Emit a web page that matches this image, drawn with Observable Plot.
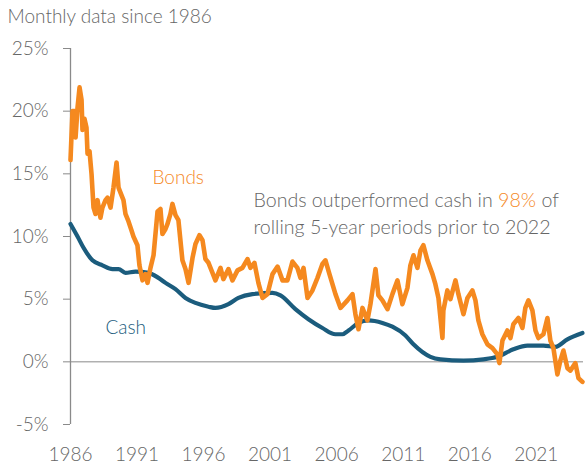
<!DOCTYPE html>
<html>
<head>
<meta charset="utf-8">
<script src="https://cdn.jsdelivr.net/npm/d3@7"></script>
<script src="https://cdn.jsdelivr.net/npm/@observablehq/plot@0.6"></script>
<style>
  html, body { margin: 0; padding: 0; background: #fff; }
  #chart svg { display: block; }
</style>
</head>
<body>
<div id="chart"></div>
<script>
const title = "Monthly data since 1986";
const noteLine1 = "Bonds outperformed cash in 98% of";
const noteLine2 = "rolling 5-year periods prior to 2022";
const noteHighlight = "98%";

const yTicks = [-5, 0, 5, 10, 15, 20, 25];
const xTicks = [1986, 1991, 1996, 2001, 2006, 2011, 2016, 2021];

const bondYears = [
  1986.00, 1986.15, 1986.30, 1986.38, 1986.53, 1986.68, 1986.83, 1986.90, 1987.05, 1987.20,
  1987.28, 1987.43, 1987.58, 1987.73, 1987.88, 1988.03, 1988.25, 1988.40, 1988.63, 1988.78,
  1989.01, 1989.23, 1989.46, 1989.61, 1989.83, 1989.98, 1990.13, 1990.36, 1990.58, 1990.73,
  1991.03, 1991.18, 1991.41, 1991.63, 1991.79, 1992.01, 1992.24, 1992.54, 1992.76, 1992.91,
  1993.14, 1993.29, 1993.51, 1993.66, 1993.89, 1994.11, 1994.41, 1994.64, 1994.87, 1995.17,
  1995.39, 1995.69, 1995.92, 1996.14, 1996.37, 1996.67, 1996.89, 1997.27, 1997.49, 1997.87,
  1998.17, 1998.55, 1998.92, 1999.30, 1999.52, 1999.82, 2000.12, 2000.43, 2000.80, 2001.18,
  2001.56, 2001.93, 2002.30, 2002.68, 2003.05, 2003.28, 2003.51, 2003.81, 2004.18, 2004.56,
  2004.93, 2005.16, 2005.46, 2005.91, 2006.29, 2006.81, 2007.19, 2007.41, 2007.64, 2007.94,
  2008.31, 2008.54, 2008.92, 2009.14, 2009.44, 2009.82, 2010.19, 2010.57, 2010.94, 2011.32,
  2011.54, 2011.77, 2012.07, 2012.30, 2012.52, 2012.82, 2013.20, 2013.42, 2013.65, 2013.95,
  2014.02, 2014.32, 2014.55, 2014.93, 2015.15, 2015.53, 2015.83, 2016.20, 2016.43, 2016.65,
  2016.95, 2017.33, 2017.71, 2018.08, 2018.23, 2018.46, 2018.83, 2019.06, 2019.28, 2019.66,
  2019.96, 2020.18, 2020.41, 2020.71, 2020.94, 2021.16, 2021.54, 2021.84, 2022.06, 2022.29,
  2022.59, 2022.81, 2023.04, 2023.34, 2023.57, 2023.94, 2024.17, 2024.47
];
const bondValues = [
  16.1, 20.0, 20.0, 17.9, 20.3, 21.9, 20.9, 18.5, 19.4, 18.7,
  16.6, 16.8, 15.0, 12.3, 11.8, 12.9, 11.5, 12.3, 12.9, 13.1,
  12.3, 13.9, 15.9, 13.9, 13.3, 12.9, 11.8, 11.2, 10.5, 10.0,
  9.3, 7.7, 6.5, 7.0, 6.3, 7.5, 8.5, 12.0, 12.2, 10.2,
  10.6, 11.0, 11.8, 12.6, 11.7, 11.3, 8.1, 7.4, 6.3, 8.3,
  9.4, 10.1, 9.7, 8.2, 7.9, 7.1, 6.5, 7.5, 6.6, 7.4,
  6.5, 7.3, 7.5, 8.2, 7.5, 7.9, 6.3, 5.1, 5.4, 7.0,
  7.6, 6.5, 6.5, 8.0, 7.5, 6.7, 7.5, 5.1, 5.7, 6.7,
  7.8, 8.1, 7.0, 5.4, 4.3, 4.9, 5.4, 3.8, 2.6, 4.3,
  3.3, 4.6, 7.4, 5.3, 4.9, 4.2, 5.4, 6.5, 4.6, 5.9,
  7.7, 8.5, 7.5, 8.9, 9.3, 8.1, 7.0, 6.2, 5.1, 1.9,
  4.1, 5.7, 5.0, 6.5, 5.4, 3.8, 5.1, 5.7, 4.9, 3.3,
  2.2, 1.4, 1.1, 0.6, -0.1, 1.7, 2.5, 1.9, 3.0, 3.5,
  2.7, 4.3, 4.9, 4.1, 2.5, 1.9, 2.2, 3.5, 1.7, 1.1,
  -1.0, 0.1, 0.9, -0.5, -0.7, -0.1, -1.3, -1.6
];

const cashYears = [
  1986.00, 1986.53, 1986.98, 1987.65, 1988.40, 1989.16, 1989.61, 1990.13, 1990.88, 1991.86,
  1992.61, 1993.14, 1993.89, 1994.64, 1995.39, 1996.37, 1996.89, 1997.87, 1998.62, 1999.67,
  2001.18, 2001.78, 2002.90, 2003.88, 2004.93, 2005.91, 2006.44, 2006.89, 2007.64, 2008.39,
  2009.44, 2010.19, 2011.17, 2011.77, 2013.05, 2013.80, 2015.53, 2017.03, 2018.08, 2019.28,
  2020.33, 2021.54, 2022.44, 2023.34, 2024.47
];
const cashValues = [
  11.0, 10.0, 9.1, 8.1, 7.7, 7.4, 7.4, 7.1, 7.2, 7.1,
  6.7, 6.3, 5.8, 5.1, 4.7, 4.4, 4.3, 4.6, 5.1, 5.4,
  5.5, 5.3, 4.2, 3.4, 2.7, 2.2, 2.2, 2.5, 3.1, 3.3,
  3.1, 2.8, 2.1, 1.4, 0.4, 0.2, 0.1, 0.2, 0.4, 1.0,
  1.3, 1.3, 1.2, 1.8, 2.3
];

const bonds = bondYears.map((x, i) => ({x, y: bondValues[i]}));
const cash = cashYears.map((x, i) => ({x, y: cashValues[i]}));

const ORANGE = "#f5891f";
const BLUE = "#1b5c7d";
const GRAY_TEXT = "#666666";
const GRAY_LINE = "#8a8a8a";
const FONT = "Lato, 'Open Sans', sans-serif";

const chart = Plot.plot({
  width: 585,
  height: 466,
  marginLeft: 70,
  marginRight: 2,
  marginTop: 48,
  marginBottom: 42,
  style: {fontFamily: FONT, fontSize: "19px", fontWeight: 300, color: GRAY_TEXT, background: "#fff", overflow: "visible"},
  x: {domain: [1986, 2024.55]},
  y: {domain: [-5, 25]},
  marks: [
    Plot.ruleY([0], {stroke: GRAY_LINE, strokeWidth: 1}),
    Plot.ruleX([1986], {y1: -5, y2: 25, stroke: GRAY_LINE, strokeWidth: 1.3}),
    Plot.axisY({ticks: yTicks, tickFormat: d => d + "%", tickSize: 7, tickPadding: 15,
      stroke: GRAY_LINE, fill: GRAY_TEXT, fontSize: 19, label: null}),
    Plot.axisX({ticks: xTicks, tickFormat: d => String(d), tickSize: 0, tickPadding: 23,
      fill: GRAY_TEXT, fontSize: 19, label: null}),
    Plot.line(cash, {x: "x", y: "y", stroke: BLUE, strokeWidth: 4.2, curve: "monotone-x"}),
    Plot.line(bonds, {x: "x", y: "y", stroke: ORANGE, strokeWidth: 4.6, strokeLinejoin: "round"}),
    Plot.text([title], {frameAnchor: "top-left", dx: -63, dy: -39, textAnchor: "start",
      lineAnchor: "top", fill: GRAY_TEXT, fontSize: 19}),
    Plot.text([noteLine1], {x: 1999.75, y: 12.86, textAnchor: "start", lineAnchor: "middle",
      fill: GRAY_TEXT, fontSize: 19.6}),
    Plot.text([noteLine2], {x: 1999.75, y: 10.70, textAnchor: "start", lineAnchor: "middle",
      fill: GRAY_TEXT, fontSize: 19.6}),
    Plot.text(["Bonds"], {x: 1992.16, y: 14.7, textAnchor: "start", lineAnchor: "middle",
      fill: ORANGE, fontSize: 19}),
    Plot.text(["Cash"], {x: 1988.63, y: 2.7, textAnchor: "start", lineAnchor: "middle",
      fill: BLUE, fontSize: 19})
  ]
});

document.getElementById("chart").appendChild(chart);

// Colour the highlighted percentage in the note
const ns = "http://www.w3.org/2000/svg";
chart.querySelectorAll("text").forEach(t => {
  if (t.textContent === noteLine1) {
    const idx = noteLine1.indexOf(noteHighlight);
    const parts = [
      [noteLine1.slice(0, idx), null],
      [noteHighlight, ORANGE],
      [noteLine1.slice(idx + noteHighlight.length), null]
    ];
    t.textContent = "";
    parts.forEach(([s, c]) => {
      const ts = document.createElementNS(ns, "tspan");
      ts.textContent = s;
      if (c) ts.setAttribute("fill", c);
      t.appendChild(ts);
    });
  }
});
</script>
</body>
</html>
